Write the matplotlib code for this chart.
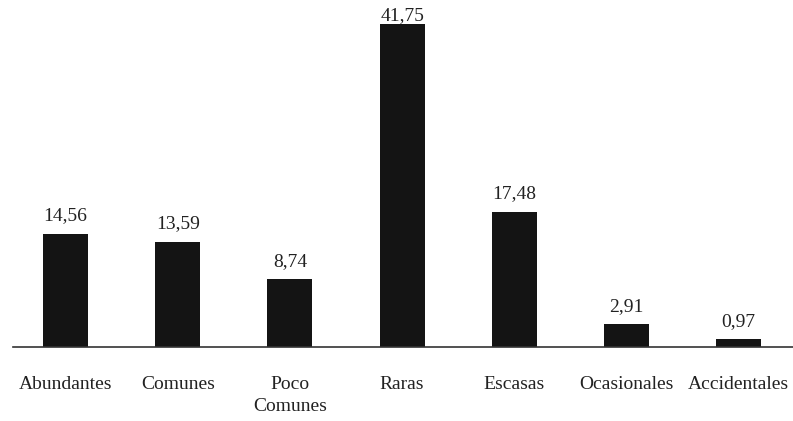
import matplotlib
matplotlib.use("Agg")
import matplotlib.pyplot as plt
import numpy as np

categories = ["Abundantes", "Comunes", "Poco\nComunes", "Raras", "Escasas",
              "Ocasionales", "Accidentales"]
values = [14.56, 13.59, 8.74, 41.75, 17.48, 2.91, 0.97]
value_labels = ["14,56", "13,59", "8,74", "41,75", "17,48", "2,91", "0,97"]

plt.rcParams["font.family"] = ["Liberation Serif", "DejaVu Serif"]

fig = plt.figure(figsize=(7.93, 4.21), dpi=100)
ax = fig.add_axes([0, 74 / 421, 1, 347 / 421])
x = np.arange(len(categories))
bars = ax.bar(x, values, width=0.40, color="#141414")
for b, lab, v in zip(bars, value_labels, values):
    # tallest bar hits the top of the figure, so its label sits right on it
    dy = 0 if v == max(values) else 7
    ax.annotate(lab, (b.get_x() + b.get_width() / 2, b.get_height()),
                xytext=(0, dy), textcoords="offset points", ha="center", va="bottom",
                fontsize=14, color="#222222", annotation_clip=False)

ax.set_xlim(-0.584, 6.484)
ax.set_ylim(0, 44.83)
ax.set_xticks(x)
ax.set_xticklabels(categories, fontsize=14, color="#222222", linespacing=1.35)
ax.tick_params(axis="x", length=0, pad=21)
ax.set_yticks([])
for s in ("top", "right", "left"):
    ax.spines[s].set_visible(False)
ax.spines["bottom"].set_color("#333333")
ax.spines["bottom"].set_linewidth(1.2)
ax.spines["bottom"].set_bounds(-0.468, 6.484)

fig.savefig("out.png", dpi=100)
